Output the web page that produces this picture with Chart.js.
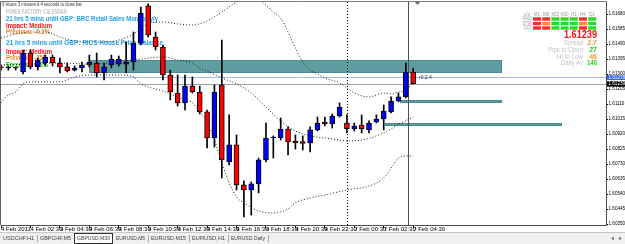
<!DOCTYPE html>
<html>
<head>
<meta charset="utf-8">
<title>GBPUSD,M30</title>
<script src="https://cdn.jsdelivr.net/npm/chart.js@4.4.1/dist/chart.umd.min.js"></script>
<style>
  html, body { margin: 0; padding: 0; background: #fff; overflow: hidden; }
  #box { width: 625px; height: 244px; }
</style>
</head>
<body>
<div id="box"><canvas id="priceChart" width="625" height="244"></canvas></div>
<script>
// GBPUSD M30 bars, 4 Feb 2011 00:30 .. 7 Feb 2011 04:30 (weekend skipped)
const openPrice  = [1.61345,1.61338,1.61342,1.61313,1.61433,1.61345,1.61370,1.61408,1.61370,1.61345,
                    1.61325,1.61338,1.61357,1.61370,1.61307,1.61357,1.61363,1.61363,1.61376,1.61496,
                    1.61731,1.61534,1.61471,1.61294,1.61180,1.61117,1.61224,1.61186,1.61060,1.60895,
                    1.61231,1.60743,1.60851,1.60598,1.60566,1.60604,1.60756,1.60895,1.60895,1.60952,
                    1.60876,1.60872,1.60863,1.60946,1.60996,1.60984,1.61034,1.60990,1.60952,1.60977,
                    1.60946,1.60996,1.61015,1.61060,1.61129,1.61155,1.61313];
const highPrice  = [1.61357,1.61351,1.61345,1.61452,1.61452,1.61401,1.61420,1.61420,1.61401,1.61370,
                    1.61351,1.61376,1.61420,1.61433,1.61370,1.61420,1.61414,1.61503,1.61566,1.61724,
                    1.61745,1.61566,1.61484,1.61325,1.61294,1.61294,1.61281,1.61224,1.61072,1.61231,
                    1.61515,1.61041,1.60914,1.60623,1.60617,1.60768,1.60990,1.60908,1.61022,1.60965,
                    1.60914,1.60908,1.60965,1.61028,1.61028,1.61047,1.61117,1.61041,1.60990,1.61041,
                    1.61003,1.61041,1.61104,1.61155,1.61180,1.61370,1.61338];
const lowPrice   = [1.61325,1.61325,1.61325,1.61300,1.61332,1.61325,1.61351,1.61351,1.61307,1.61313,
                    1.61319,1.61313,1.61345,1.61281,1.61262,1.61338,1.61351,1.61307,1.61325,1.61484,
                    1.61534,1.61452,1.61262,1.61136,1.61098,1.61072,1.61180,1.61047,1.60832,1.60838,
                    1.60642,1.60724,1.60566,1.60395,1.60407,1.60547,1.60743,1.60768,1.60882,1.60787,
                    1.60825,1.60819,1.60806,1.60939,1.60971,1.60958,1.61028,1.60927,1.60939,1.60927,
                    1.60927,1.60990,1.60946,1.61053,1.61123,1.61148,1.61237];
const closePrice = [1.61338,1.61342,1.61338,1.61433,1.61345,1.61389,1.61408,1.61370,1.61345,1.61319,
                    1.61338,1.61357,1.61376,1.61307,1.61345,1.61395,1.61395,1.61376,1.61496,1.61686,
                    1.61547,1.61471,1.61294,1.61186,1.61117,1.61224,1.61186,1.61060,1.60895,1.61186,
                    1.60756,1.60851,1.60598,1.60566,1.60604,1.60756,1.60895,1.60895,1.60952,1.60870,
                    1.60863,1.60860,1.60946,1.60990,1.60984,1.61034,1.61091,1.60952,1.60971,1.60952,
                    1.60990,1.61015,1.61066,1.61129,1.61155,1.61313,1.61239];

// time axis labels, one every 4 bars
const timeTickBars = [0,4,8,12,16,20,24,28,32,36,40,44,48,52,56];
const timeTickLabels = ['4 Feb 2011','4 Feb 02:30','4 Feb 04:30','4 Feb 06:30','4 Feb 08:30',
                        '4 Feb 10:30','4 Feb 12:30','4 Feb 14:30','4 Feb 16:30','4 Feb 18:30',
                        '4 Feb 20:30','4 Feb 22:30','7 Feb 00:30','7 Feb 02:30','7 Feb 04:30'];
const priceTicks = [1.61680,1.61585,1.61490,1.61395,1.61300,1.61205,1.61110,1.61015,
                    1.60920,1.60825,1.60730,1.60635,1.60540,1.60445,1.60350];

// bollinger bands
const upperBandBars = [0,2,4,6,8,10,12,14,16,18,20,22,24,26,28,30,32,34,36,37,38,39,40,41,42,43,44,46,47,48,50,52,53,54,55,56];
const upperBand = [1.61528,1.61553,1.61566,1.61566,1.61534,1.61509,1.61503,1.61503,1.61515,1.61553,
                   1.61617,1.61629,1.61617,1.61610,1.61636,1.61693,1.61756,1.61800,1.61737,1.61693,
                   1.61655,1.61566,1.61465,1.61376,1.61325,1.61300,1.61275,1.61243,1.61212,1.61180,
                   1.61155,1.61180,1.61174,1.61186,1.61199,1.61250];
const middleBandBars = [0,4,8,12,16,18,20,22,24,26,27,28,30,32,34,36,38,40,42,44,46,47,49,51,53,54,55,56];
const middleBand = [1.61357,1.61363,1.61370,1.61363,1.61376,1.61389,1.61401,1.61408,1.61389,1.61370,
                    1.61338,1.61319,1.61275,1.61237,1.61180,1.61091,1.61003,1.60939,1.60908,1.60895,
                    1.60882,1.60876,1.60882,1.60908,1.60952,1.60984,1.61003,1.61028];
const lowerBandBars = [0,1,2,3,4,8,10,12,16,18,19,20,22,24,26,27,28,29,30,31,32,33,35,37,39,40,42,44,47,50,52,53,54,55,56];
const lowerBand = [1.61117,1.61167,1.61186,1.61237,1.61250,1.61250,1.61281,1.61294,1.61294,1.61281,
                   1.61237,1.61218,1.61193,1.61155,1.61117,1.61060,1.60996,1.60882,1.60737,1.60610,
                   1.60522,1.60484,1.60433,1.60420,1.60446,1.60484,1.60515,1.60534,1.60566,1.60591,
                   1.60642,1.60705,1.60768,1.60781,1.60781];

// supply / demand rectangles
const zoneFromBar = [12, 54.2, 52.2];
const zoneToBar   = [68.1, 68.1, 76.2];
const zoneHigh    = [1.61389, 1.61136, 1.60990];
const zoneLow     = [1.61307, 1.61117, 1.60971];

const askPrice = 1.61278;
const bidPrice = 1.61239;
const separatorBar = 47;   // 7 Feb 00:00
const cursorBar = 55.3;

// news calendar lines
const calendarText = ['FOREX FACTORY CALENDAR',
  '21 hrs 5 mins until GBP: BRC Retail Sales Monitor y/y','Impact: Medium','Previous: -0.2%',
  '21 hrs 5 mins until GBP: RICS House Price Balance','Impact: Medium','Previous: -35%','Forecast: -33%'];
const calendarColor = ['#c4c4c4','#22a0e6','#ff1010','#e8872a','#22a0e6','#ff1010','#e8872a','#14cc14'];

// signal panel
const panelFrames = ['M1','M5','M15','M30','H1','H4','D1'];
const panelRows = ['MACD','STR','CCI'];
const panelState = [
  ['dn','dn','up','up','up','dn','up'],
  ['dn','mid','up','up','up','mid','up'],
  ['dn','dn','up','up','up','dn','up']
];
const panelLabels = ['Spread','Pips to Open','Hi to Low','Daily Av'];
const panelValues = ['2.7','27','46','148'];
const panelValueColors = ['#f0a030','#22cc22','#f0a030','#22dd22'];

const tabNames = ['USDCHF,H1','GBPCHF,M5','GBPUSD,M30','EURUSD,M5','EURUSD,M15','EURUSD,H1','EURUSD,Daily'];
const activeTab = 2;

const barIndex = openPrice.map((_, i) => i);
const bodyColors = barIndex.map(i => closePrice[i] >= openPrice[i] ? '#0000ff' : '#ff0000');
const FONT = '"Liberation Sans", Arial, sans-serif';

function bandData(bars, vals) {
  return bars.map((b, k) => ({ x: b, y: vals[k] }));
}

function bandSet(bars, vals) {
  return {
    type: 'line',
    data: bandData(bars, vals),
    borderColor: '#202020',
    borderWidth: 1,
    borderDash: [1, 2],
    pointRadius: 0,
    cubicInterpolationMode: 'monotone',
    order: 1
  };
}

const overlay = {
  id: 'mt4Overlay',
  beforeDatasetsDraw(chart) {
    const { ctx, chartArea: a, scales: { x, y } } = chart;
    ctx.save();
    ctx.beginPath();
    ctx.rect(a.left, a.top, a.right - a.left, a.bottom - a.top);
    ctx.clip();

    // rectangles
    zoneFromBar.forEach((from, k) => {
      const x0 = Math.round(x.getPixelForValue(from));
      const x1 = Math.round(x.getPixelForValue(zoneToBar[k]));
      const y0 = Math.round(y.getPixelForValue(zoneHigh[k]));
      const y1 = Math.round(y.getPixelForValue(zoneLow[k]));
      ctx.fillStyle = '#5f9ea0';
      ctx.fillRect(x0, y0, x1 - x0, y1 - y0);
      ctx.strokeStyle = '#4a8a8c';
      ctx.lineWidth = 1;
      ctx.strokeRect(x0 + 0.5, y0 + 0.5, x1 - x0 - 1, y1 - y0 - 1);
    });

    // ask / bid lines
    let py = Math.round(y.getPixelForValue(askPrice)) + 0.5;
    ctx.strokeStyle = '#a9b6f2';
    ctx.lineWidth = 1;
    ctx.beginPath(); ctx.moveTo(a.left, py); ctx.lineTo(a.right, py); ctx.stroke();
    py = Math.round(y.getPixelForValue(bidPrice)) + 0.5;
    ctx.strokeStyle = '#a0a0a0';
    ctx.beginPath(); ctx.moveTo(a.left, py); ctx.lineTo(a.right, py); ctx.stroke();

    // day separator and cursor line
    let px = Math.round(x.getPixelForValue(separatorBar)) + 0.5;
    ctx.strokeStyle = '#000';
    ctx.setLineDash([1, 2]);
    ctx.beginPath(); ctx.moveTo(px, a.top); ctx.lineTo(px, a.bottom); ctx.stroke();
    ctx.setLineDash([]);
    px = Math.round(x.getPixelForValue(cursorBar)) + 0.5;
    ctx.strokeStyle = '#505050';
    ctx.beginPath(); ctx.moveTo(px, a.top); ctx.lineTo(px, a.bottom); ctx.stroke();

    // timer and calendar text
    ctx.textBaseline = 'middle';
    ctx.textAlign = 'left';
    ctx.fillStyle = '#303030';
    ctx.font = '6px ' + FONT;
    ctx.fillText('0 Hours 3 minutes a 4 seconds to close bar', 2, 4.5, 80);
    const rowsY = [12, 18.5, 25.5, 32, 43, 51.5, 58, 64.5];
    const rowsW = [61, 152, 46, 44, 157, 46, 42, 42];
    calendarText.forEach((t, k) => {
      ctx.font = 'bold ' + (k === 0 ? 7 : 8) + 'px ' + FONT;
      ctx.fillStyle = calendarColor[k];
      ctx.fillText(t, 6, rowsY[k], rowsW[k]);
    });

    // small text object
    ctx.fillStyle = '#303030';
    ctx.font = '5px ' + FONT;
    ctx.fillText('r0.2.4', 419, 77.5, 14);
    ctx.restore();
  },

  afterDraw(chart) {
    const { ctx, chartArea: a, scales: { y } } = chart;
    ctx.save();

    // frame top / left
    ctx.strokeStyle = '#808080';
    ctx.lineWidth = 1;
    ctx.beginPath(); ctx.moveTo(0, 1.5); ctx.lineTo(a.right + 1, 1.5); ctx.stroke();
    ctx.strokeStyle = '#606060';
    ctx.beginPath(); ctx.moveTo(0.5, 1.5); ctx.lineTo(0.5, a.bottom); ctx.stroke();

    // chart shift marker
    ctx.fillStyle = '#606070';
    ctx.beginPath(); ctx.moveTo(415, 2); ctx.lineTo(420, 2); ctx.lineTo(417.5, 5); ctx.closePath(); ctx.fill();

    // price labels on the axis
    ctx.textBaseline = 'middle';
    ctx.textAlign = 'left';
    ctx.font = '4.6px ' + FONT;
    let ly = y.getPixelForValue(askPrice);
    ctx.fillStyle = '#3a64e6';
    ctx.fillRect(a.right + 1, ly - 2.5, 19, 5);
    ctx.fillStyle = '#fff';
    ctx.fillText(askPrice.toFixed(5), a.right + 2.5, ly, 16.5);
    ly = y.getPixelForValue(bidPrice);
    ctx.fillStyle = '#000';
    ctx.fillRect(a.right + 1, ly - 2.5, 19, 5.5);
    ctx.fillStyle = '#fff';
    ctx.fillText(bidPrice.toFixed(5), a.right + 2.5, ly + 0.3, 16.5);

    // signal panel
    const cellColor = { dn: '#ff2a2a', mid: '#ff8c2a', up: '#22dd22' };
    ctx.font = '4.5px ' + FONT;
    ctx.fillStyle = '#9a9a9a';
    ctx.textAlign = 'center';
    ctx.fillText('c/s', 527, 14.5, 8);
    panelFrames.forEach((f, c) => ctx.fillText(f, 537 + c * 9.2, 14.5, 8));
    ctx.textAlign = 'right';
    panelRows.forEach((r, k) => ctx.fillText(r, 531.5, 19 + k * 4.5, 9));
    panelState.forEach((row, r) => row.forEach((s, c) => {
      ctx.fillStyle = cellColor[s];
      ctx.fillRect(533 + c * 9.2, 17.3 + r * 4.5, 8, 3.4);
    }));

    ctx.font = 'bold 11px ' + FONT;
    ctx.fillStyle = '#ff1010';
    ctx.fillText(closePrice[closePrice.length - 1].toFixed(5), 597, 35, 33);
    const infoY = [43, 50, 57, 63.5];
    const infoW = [19, 35, 26, 22];
    panelLabels.forEach((t, k) => {
      ctx.textAlign = 'right';
      ctx.font = '7px ' + FONT;
      ctx.fillStyle = '#c4c4c4';
      ctx.fillText(t, 583, infoY[k], infoW[k]);
      ctx.font = 'bold 7px ' + FONT;
      ctx.fillStyle = panelValueColors[k];
      ctx.fillText(panelValues[k], 597, infoY[k], 10);
    });

    // tab bar
    ctx.fillStyle = '#f0f0f0';
    ctx.fillRect(0, 232, 625, 12);
    ctx.strokeStyle = '#c8c8c8';
    ctx.beginPath(); ctx.moveTo(0, 232.5); ctx.lineTo(625, 232.5); ctx.stroke();
    const tabLeft = [0, 37, 74, 113, 148, 189, 228, 268];
    ctx.font = '6px ' + FONT;
    ctx.textAlign = 'center';
    tabNames.forEach((t, k) => {
      const l = tabLeft[k], r = tabLeft[k + 1];
      if (k === activeTab) {
        ctx.fillStyle = '#fff';
        ctx.fillRect(l, 233, r - l, 11);
        ctx.strokeStyle = '#303030';
        ctx.strokeRect(l + 0.5, 233.5, r - l - 1, 10);
      } else if (k !== activeTab - 1) {
        ctx.strokeStyle = '#a8a8a8';
        ctx.beginPath(); ctx.moveTo(r + 0.5, 235); ctx.lineTo(r + 0.5, 242); ctx.stroke();
      }
      ctx.fillStyle = '#404040';
      ctx.fillText(t, (l + r) / 2, 238.5, r - l - 6);
    });
    ctx.fillStyle = '#808080';
    ctx.beginPath(); ctx.moveTo(611, 238.5); ctx.lineTo(614, 236.5); ctx.lineTo(614, 240.5); ctx.closePath(); ctx.fill();
    ctx.beginPath(); ctx.moveTo(622, 238.5); ctx.lineTo(619, 236.5); ctx.lineTo(619, 240.5); ctx.closePath(); ctx.fill();
    ctx.restore();
  }
};

new Chart(document.getElementById('priceChart'), {
  type: 'bar',
  data: {
    datasets: [
      {
        label: 'wick',
        data: barIndex.map(i => ({ x: i, y: [lowPrice[i], highPrice[i]] })),
        backgroundColor: '#000',
        barThickness: 1,
        grouped: false,
        order: 3
      },
      {
        label: 'body',
        data: barIndex.map(i => ({ x: i, y: [openPrice[i], closePrice[i]] })),
        backgroundColor: bodyColors,
        borderColor: '#000',
        borderWidth: 1,
        borderSkipped: false,
        barThickness: 5,
        minBarLength: 1,
        grouped: false,
        order: 2
      },
      bandSet(upperBandBars, upperBand),
      bandSet(middleBandBars, middleBand),
      bandSet(lowerBandBars, lowerBand)
    ]
  },
  options: {
    responsive: false,
    animation: false,
    devicePixelRatio: 1,
    layout: { padding: { left: 1, top: 2, right: 0, bottom: 0 } },
    plugins: { legend: { display: false }, tooltip: { enabled: false } },
    scales: {
      x: {
        type: 'linear',
        min: 0,
        max: 82.2,
        offset: false,
        afterBuildTicks: s => { s.ticks = timeTickBars.map(v => ({ value: v })); },
        afterFit: s => { s.height = 19; s.paddingLeft = 0; s.paddingRight = 0; },
        ticks: {
          autoSkip: false, maxRotation: 0, minRotation: 0, align: 'start', padding: -2,
          color: '#000', font: { size: 6, family: FONT },
          callback: (v, i) => timeTickLabels[i]
        },
        grid: { offset: false, drawOnChartArea: false, tickLength: 3, color: '#000' },
        border: { color: '#505050' }
      },
      y: {
        position: 'right',
        min: 1.60344,
        max: 1.61756,
        afterBuildTicks: s => { s.ticks = priceTicks.map(v => ({ value: v })); },
        afterFit: s => { s.width = 19; s.paddingTop = 0; s.paddingBottom = 0; },
        ticks: {
          padding: 0.5, color: '#000', font: { size: 4.6, family: FONT },
          callback: v => v.toFixed(5)
        },
        grid: { drawOnChartArea: false, tickLength: 2, color: '#000' },
        border: { color: '#505050' }
      }
    }
  },
  plugins: [overlay]
});
</script>
</body>
</html>
